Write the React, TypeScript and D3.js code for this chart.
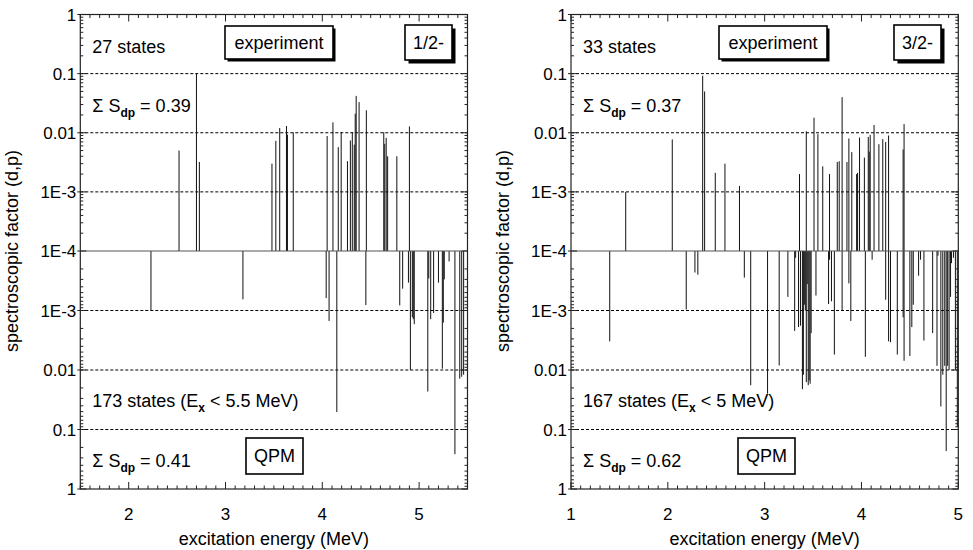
import React from "react";
import * as d3 from "d3";

// ---------- data ----------
const leftExpE = [2.52, 2.70, 2.73, 3.48, 3.52, 3.56, 3.63, 3.64, 3.70, 4.05, 4.11, 4.165, 4.195, 4.26, 4.29, 4.31, 4.33, 4.34, 4.35, 4.38, 4.455, 4.635, 4.645, 4.66, 4.675, 4.77, 4.90];
const leftExpS = [0.005, 0.1, 0.0032, 0.003, 0.0073, 0.012, 0.013, 0.0093, 0.0101, 0.0088, 0.015, 0.0057, 0.0102, 0.0033, 0.0074, 0.0102, 0.0063, 0.021, 0.042, 0.033, 0.024, 0.0102, 0.0065, 0.0082, 0.004, 0.004, 0.0128];

const leftQpmE = [2.23, 3.18, 4.04, 4.07, 4.15, 4.45, 4.80, 4.83, 4.89, 4.91, 4.93, 4.94, 4.95, 5.09, 5.10, 5.12, 5.15, 5.20, 5.24, 5.25, 5.26, 5.31, 5.37, 5.42, 5.44, 5.46];
const leftQpmS = [1e-3, 6.5e-4, 6.2e-4, 1.5e-3, 0.051, 8.1e-4, 8.2e-4, 4.3e-4, 3.4e-4, 0.01, 1.3e-3, 1.4e-3, 1.7e-3, 0.023, 2.9e-4, 1.4e-3, 1.1e-3, 3.4e-4, 0.0095, 1.6e-3, 3e-4, 1.5e-4, 0.26, 0.014, 0.013, 0.012];

const rightExpE = [1.565, 2.046, 2.36, 2.38, 2.49, 2.59, 2.74, 3.36, 3.43, 3.51, 3.55, 3.60, 3.67, 3.75, 3.77, 3.80, 3.85, 3.87, 3.90, 3.95, 3.96, 3.98, 4.03, 4.07, 4.08, 4.09, 4.13, 4.18, 4.22, 4.25, 4.28, 4.43, 4.44];
const rightExpS = [1e-3, 0.0077, 0.092, 0.05, 0.0021, 0.003, 0.00126, 0.002, 0.0106, 0.018, 0.0095, 0.0027, 0.002, 0.0032, 0.0033, 0.04, 0.0032, 0.008, 0.0047, 0.002, 0.0021, 0.0083, 0.0038, 0.0085, 0.0048, 0.0092, 0.0135, 0.0064, 0.0078, 0.007, 0.009, 0.0052, 0.014];

const rightQpmE = [1.40, 2.19, 2.28, 2.31, 2.79, 2.856, 3.03, 3.15, 3.24, 3.31, 3.32, 3.35, 3.37, 3.39, 3.40, 3.41, 3.42, 3.43, 3.44, 3.45, 3.46, 3.47, 3.48, 3.53, 3.66, 3.67, 3.69, 3.72, 3.80, 3.87, 3.89, 4.04, 4.11, 4.25, 4.28, 4.30, 4.37, 4.43, 4.44, 4.50, 4.52, 4.535, 4.59, 4.61, 4.645, 4.735, 4.78, 4.79, 4.82, 4.84, 4.86, 4.875, 4.89, 4.905, 4.92, 4.93, 4.95, 4.97, 4.99];
const rightQpmS = [3.3e-3, 9.6e-4, 2.3e-4, 2.5e-4, 2.8e-4, 0.018, 0.025, 0.0084, 5.9e-4, 2.2e-3, 1.3e-4, 1.9e-3, 1.8e-3, 0.021, 0.012, 8e-4, 1e-3, 0.016, 3.6e-4, 0.018, 0.015, 0.017, 2.4e-3, 5.6e-4, 7.8e-4, 1.4e-4, 7e-4, 5.5e-3, 1e-3, 3.5e-4, 1.5e-3, 6e-3, 1.4e-4, 6.6e-4, 3.3e-3, 3.4e-3, 5.5e-3, 1.3e-3, 7e-3, 5.8e-3, 1.9e-3, 8e-4, 2.6e-4, 1.4e-4, 3.2e-3, 2.4e-3, 8.5e-3, 1.2e-4, 0.041, 0.012, 8.5e-3, 0.23, 8.5e-3, 0.01, 5.9e-4, 1.6e-4, 1.3e-4, 0.01, 0.09];

const yTopValues = [1, 0.1, 0.01, 1e-3, 1e-4];
const yTopLabels = ["1", "0.1", "0.01", "1E-3", "1E-4"];
const yBotValues = [1e-3, 0.01, 0.1, 1];
const yBotLabels = ["1E-3", "0.01", "0.1", "1"];
const gridValues = [0.1, 0.01, 1e-3];

const FONT = "'Liberation Sans', Arial, Helvetica, sans-serif";

const Y_TOP = 14.5;
const Y_MID = 251;
const Y_BOT = 489;

function Box({ x, y, w, h, text, shadow, fs }) {
  return (
    <g>
      {shadow > 0 && <rect x={x + shadow} y={y + shadow} width={w} height={h} fill="#000" />}
      <rect x={x} y={y} width={w} height={h} fill="#fff" stroke="#000" strokeWidth={1.6} />
      <text x={x + w / 2} y={y + h / 2 + 6} textAnchor="middle" fontSize={fs}>{text}</text>
    </g>
  );
}

function SigmaText({ x, y, value }) {
  return (
    <text x={x} y={y} fontSize={18}>
      {"Σ S"}
      <tspan dy={5} fontSize={12} fontWeight="bold">dp</tspan>
      <tspan dy={-5}>{" = " + value}</tspan>
    </text>
  );
}

function Panel({ x0, x1, domain, majorTicks, expE, expS, qpmE, qpmS, nExp, spin, sumExp, qpmLabel, sumQpm, expBox, spinBox, qpmBox }) {
  const xs = d3.scaleLinear().domain(domain).range([x0, x1]);
  const yUp = d3.scaleLog().domain([1e-4, 1]).range([Y_MID, Y_TOP]);
  const yDn = d3.scaleLog().domain([1e-4, 1]).range([Y_MID, Y_BOT]);

  const minorX = d3.range(Math.round(domain[0] * 10), Math.round(domain[1] * 10) + 1).map((d) => d / 10);
  const minorY = [];
  [1e-4, 1e-3, 1e-2, 1e-1].forEach((dec) => {
    for (let k = 2; k <= 9; k++) minorY.push(dec * k);
  });

  const lines = [];
  gridValues.forEach((v, i) => {
    lines.push(<line key={"gu" + i} x1={x0} x2={x1} y1={yUp(v)} y2={yUp(v)} stroke="#000" strokeWidth={1} strokeDasharray="3,2" />);
    lines.push(<line key={"gd" + i} x1={x0} x2={x1} y1={yDn(v)} y2={yDn(v)} stroke="#000" strokeWidth={1} strokeDasharray="3,2" />);
  });

  return (
    <g fontFamily={FONT}>
      {lines}
      {expE.map((e, i) => (
        <line key={"e" + i} x1={xs(e)} x2={xs(e)} y1={Y_MID} y2={yUp(expS[i])} stroke="#111" strokeWidth={1} />
      ))}
      {qpmE.map((e, i) => (
        <line key={"q" + i} x1={xs(e)} x2={xs(e)} y1={Y_MID} y2={yDn(qpmS[i])} stroke="#111" strokeWidth={1} />
      ))}
      <line x1={x0} x2={x1} y1={Y_MID} y2={Y_MID} stroke="#555" strokeWidth={1.2} />
      <rect x={x0} y={Y_TOP} width={x1 - x0} height={Y_BOT - Y_TOP} fill="none" stroke="#222" strokeWidth={1.2} />
      {minorX.map((v, i) => {
        const major = Math.abs(v - Math.round(v)) < 1e-6;
        const len = major ? 7 : 3.5;
        return (
          <g key={"xt" + i}>
            <line x1={xs(v)} x2={xs(v)} y1={Y_BOT} y2={Y_BOT - len} stroke="#222" />
            <line x1={xs(v)} x2={xs(v)} y1={Y_TOP} y2={Y_TOP + len} stroke="#222" />
          </g>
        );
      })}
      {majorTicks.map((v, i) => (
        <text key={"xl" + i} x={xs(v)} y={520} textAnchor="middle" fontSize={17}>{v}</text>
      ))}
      {minorY.map((v, i) => (
        <g key={"ym" + i}>
          <line x1={x0} x2={x0 + 3} y1={yUp(v)} y2={yUp(v)} stroke="#222" />
          <line x1={x0} x2={x0 + 3} y1={yDn(v)} y2={yDn(v)} stroke="#222" />
          <line x1={x1} x2={x1 - 3} y1={yUp(v)} y2={yUp(v)} stroke="#222" />
          <line x1={x1} x2={x1 - 3} y1={yDn(v)} y2={yDn(v)} stroke="#222" />
        </g>
      ))}
      {yTopValues.map((v, i) => (
        <g key={"yt" + i}>
          <line x1={x0 - 3} x2={x0 + 6} y1={yUp(v)} y2={yUp(v)} stroke="#222" />
          <line x1={x1} x2={x1 - 6} y1={yUp(v)} y2={yUp(v)} stroke="#222" />
          <text x={x0 - 4} y={yUp(v) + 6} textAnchor="end" fontSize={17}>{yTopLabels[i]}</text>
        </g>
      ))}
      {yBotValues.map((v, i) => (
        <g key={"yb" + i}>
          <line x1={x0 - 3} x2={x0 + 6} y1={yDn(v)} y2={yDn(v)} stroke="#222" />
          <line x1={x1} x2={x1 - 6} y1={yDn(v)} y2={yDn(v)} stroke="#222" />
          <text x={x0 - 4} y={yDn(v) + 6} textAnchor="end" fontSize={17}>{yBotLabels[i]}</text>
        </g>
      ))}
      <text x={(x0 + x1) / 2} y={545} textAnchor="middle" fontSize={18}>excitation energy (MeV)</text>
      <text transform={`translate(${x0 - 62},${Y_MID}) rotate(-90)`} textAnchor="middle" fontSize={18}>spectroscopic factor (d,p)</text>
      <text x={x0 + 12} y={53} fontSize={18}>{nExp}</text>
      <SigmaText x={x0 + 12} y={112} value={sumExp} />
      <text x={x0 + 12} y={407} fontSize={18}>
        {qpmLabel[0]}
        <tspan dy={5} fontSize={12} fontWeight="bold">x</tspan>
        <tspan dy={-5}>{qpmLabel[1]}</tspan>
      </text>
      <SigmaText x={x0 + 12} y={467} value={sumQpm} />
      <Box x={expBox[0]} y={26} w={expBox[1]} h={33} text="experiment" shadow={2.5} fs={18} />
      <Box x={spinBox[0]} y={25} w={spinBox[1]} h={35} text={spin} shadow={3.5} fs={18} />
      <Box x={qpmBox[0]} y={438} w={qpmBox[1]} h={36} text="QPM" shadow={0} fs={18} />
    </g>
  );
}

export default function App() {
  return (
    <svg width={973} height={550} style={{ position: "absolute", left: 0, top: 0, background: "#fff" }}>
      <rect width={973} height={550} fill="#fff" />
      <Panel
        x0={80.3}
        x1={467.5}
        domain={[1.5, 5.5]}
        majorTicks={[2, 3, 4, 5]}
        expE={leftExpE}
        expS={leftExpS}
        qpmE={leftQpmE}
        qpmS={leftQpmS}
        nExp="27 states"
        spin="1/2-"
        sumExp="0.39"
        qpmLabel={["173 states (E", " < 5.5 MeV)"]}
        sumQpm="0.41"
        expBox={[225, 108]}
        spinBox={[405, 47]}
        qpmBox={[246, 57]}
      />
      <Panel
        x0={571}
        x1={958.3}
        domain={[1, 5]}
        majorTicks={[1, 2, 3, 4, 5]}
        expE={rightExpE}
        expS={rightExpS}
        qpmE={rightQpmE}
        qpmS={rightQpmS}
        nExp="33 states"
        spin="3/2-"
        sumExp="0.37"
        qpmLabel={["167 states (E", " < 5 MeV)"]}
        sumQpm="0.62"
        expBox={[719, 108]}
        spinBox={[894, 47]}
        qpmBox={[738, 57]}
      />
    </svg>
  );
}
